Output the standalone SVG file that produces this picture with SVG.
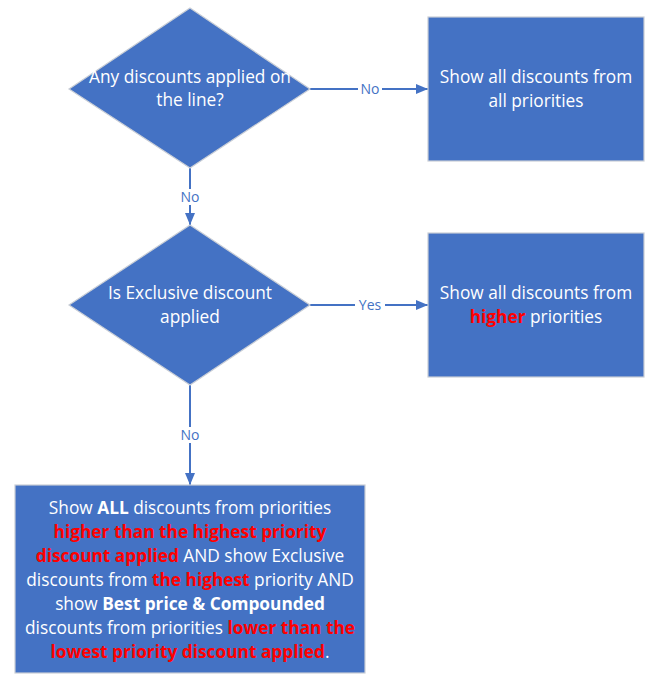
<svg xmlns="http://www.w3.org/2000/svg" width="658" height="688" viewBox="0 0 658 688">
<defs>
<marker id="arr" viewBox="0 0 12 10" refX="12" refY="5" markerWidth="12" markerHeight="10" markerUnits="userSpaceOnUse" orient="auto">
<path d="M0,0 L12,5 L0,10 Z" fill="#4472C4"/>
</marker>
<style>
.shape{fill:#4472C4;stroke:#c9ced6;stroke-width:1.2}
.t{font-family:"Open Sans","Liberation Sans",sans-serif;font-size:17.3px;fill:#ffffff;text-anchor:middle}
.r{fill:#ff0000;font-weight:bold}
.b{font-weight:bold}
.edge{stroke:#4472C4;stroke-width:2;fill:none}
.lbl{font-family:"Open Sans","Liberation Sans",sans-serif;font-size:14px;fill:#4472C4;text-anchor:middle}
.lblbg{fill:#ffffff}
</style>
</defs>
<rect width="658" height="688" fill="#ffffff"/>
<g id="connectors">
<line class="edge" x1="310" y1="89" x2="428" y2="89" marker-end="url(#arr)"/>
<line class="edge" x1="190" y1="168" x2="190" y2="225" marker-end="url(#arr)"/>
<line class="edge" x1="310" y1="305" x2="428" y2="305" marker-end="url(#arr)"/>
<line class="edge" x1="190" y1="385" x2="190" y2="485" marker-end="url(#arr)"/>
<rect class="lblbg" x="358" y="81" width="24" height="16"/>
<text class="lbl" x="370" y="94">No</text>
<rect class="lblbg" x="178" y="189" width="24" height="16"/>
<text class="lbl" x="190" y="202">No</text>
<rect class="lblbg" x="355" y="297" width="30" height="16"/>
<text class="lbl" x="370" y="310">Yes</text>
<rect class="lblbg" x="178" y="427" width="24" height="16"/>
<text class="lbl" x="190" y="440">No</text>
</g>
<g id="d1">
<polygon class="shape" points="190,8 310,89 190,168 69,89"/>
<text class="t" x="190" y="83">Any discounts applied on</text>
<text class="t" x="190" y="106">the line?</text>
</g>
<g id="b1">
<rect class="shape" x="428" y="17" width="216" height="144"/>
<text class="t" x="536" y="83">Show all discounts from</text>
<text class="t" x="536" y="107">all priorities</text>
</g>
<g id="d2">
<polygon class="shape" points="190,225 310,305 190,385 69,305"/>
<text class="t" x="190" y="299">Is Exclusive discount</text>
<text class="t" x="190" y="323">applied</text>
</g>
<g id="b2">
<rect class="shape" x="428" y="233" width="216" height="144"/>
<text class="t" x="536" y="299">Show all discounts from</text>
<text class="t" x="536" y="323"><tspan class="r">higher</tspan> priorities</text>
</g>
<g id="b3">
<rect class="shape" x="15" y="485" width="350" height="188"/>
<text class="t" x="190" y="514">Show <tspan class="b">ALL</tspan> discounts from priorities</text>
<text class="t" x="190" y="538"><tspan class="r">higher than the highest priority</tspan></text>
<text class="t" x="190" y="562"><tspan class="r">discount applied</tspan> AND show Exclusive</text>
<text class="t" x="190" y="586">discounts from <tspan class="r">the highest</tspan> priority AND</text>
<text class="t" x="190" y="610">show <tspan class="b">Best price &amp; Compounded</tspan></text>
<text class="t" x="190" y="634">discounts from priorities <tspan class="r">lower than the</tspan></text>
<text class="t" x="190" y="658"><tspan class="r">lowest priority discount applied</tspan>.</text>
</g>
</svg>
